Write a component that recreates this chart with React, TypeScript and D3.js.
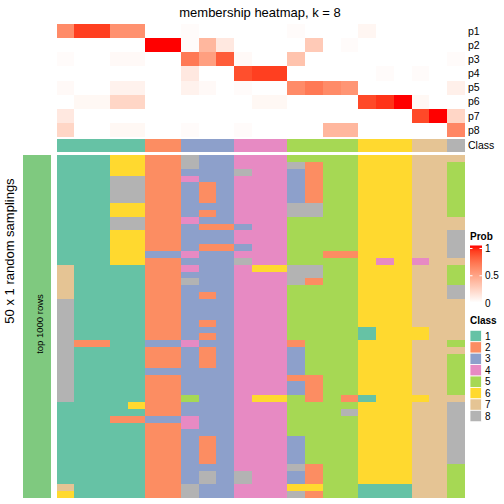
import React from "react";
import * as d3 from "d3";

const title = "membership heatmap, k = 8";
const probNames = ["p1", "p2", "p3", "p4", "p5", "p6", "p7", "p8"];
const classLabels = ["1", "2", "3", "4", "5", "6", "7", "8"];
const classColors = ["#66C2A5", "#FC8D62", "#8DA0CB", "#E78AC3", "#A6D854", "#FFD92F", "#E5C494", "#B3B3B3"];
const columnClass = "11111223334445555666778";

const p1 = [0.6, 0.9, 0.9, 0.57, 0.57, 0, 0, 0.02, 0, 0, 0, 0, 0, 0.02, 0, 0, 0, 0.05, 0, 0, 0, 0, 0];
const p2 = [0, 0, 0, 0, 0, 1, 1, 0.02, 0.38, 0.12, 0, 0, 0, 0, 0.28, 0, 0.02, 0, 0, 0, 0, 0, 0];
const p3 = [0.02, 0, 0, 0.03, 0.03, 0, 0, 0.68, 0.5, 0.8, 0.03, 0, 0, 0.32, 0, 0, 0, 0, 0, 0, 0, 0, 0.02];
const p4 = [0, 0, 0, 0, 0, 0, 0, 0.12, 0, 0, 0.85, 0.9, 0.9, 0, 0, 0, 0, 0, 0.02, 0, 0.02, 0, 0];
const p5 = [0.03, 0, 0, 0.07, 0.07, 0, 0, 0.07, 0.03, 0, 0.02, 0, 0, 0.6, 0.68, 0.6, 0.55, 0, 0, 0, 0, 0, 0.08];
const p6 = [0, 0.04, 0.04, 0.22, 0.22, 0, 0, 0, 0, 0, 0, 0.04, 0.04, 0, 0, 0, 0, 0.87, 0.93, 1, 0.04, 0, 0];
const p7 = [0.12, 0, 0, 0, 0, 0, 0, 0, 0, 0, 0, 0, 0, 0, 0, 0, 0, 0, 0, 0, 0.87, 1, 0.22];
const p8 = [0.22, 0, 0, 0.04, 0.04, 0, 0, 0.02, 0, 0, 0.02, 0, 0, 0, 0, 0.38, 0.38, 0, 0, 0, 0, 0, 0.62];
const probRows = [p1, p2, p3, p4, p5, p6, p7, p8];

// 50 random samplings x 23 samples, class labels
const samplings = [
  "11166228334445555666777",
  "11166228334448255666775",
  "11166223338443255666775",
  "11188224334443255666775",
  "11188223234443255666775",
  "11188223234443255666775",
  "11188223234443255666775",
  "11166223334448855666775",
  "11166223234448855666775",
  "11188224334445555666777",
  "11188223223445555666777",
  "11166223334445555666778",
  "11166223334445555666778",
  "11166223223445555666778",
  "11166334334445522666778",
  "11166223338445555646477",
  "71111224334668855666775",
  "71111223334448855666775",
  "71111228334448255666775",
  "71111223334445555666778",
  "71111223234445555666778",
  "81111223334445555666777",
  "81111223334445555666777",
  "81111223334445555666777",
  "81111223234445555666777",
  "81111223334445555166677",
  "81111223234445555166677",
  "82211334334442555666775",
  "81111223234443555666777",
  "81111223234443555666775",
  "81111223234443555666775",
  "81111333334443555666775",
  "81111223334442255666775",
  "81111223334443255666775",
  "81111223334443255666775",
  "81111225334665252166677",
  "11116223334445555666778",
  "11111223334445558666778",
  "11122334334445555666778",
  "11111224334445555666778",
  "11111223334445555666778",
  "11111223234443555666778",
  "11111223234443555666778",
  "11111223234443555666778",
  "11111223234443555666778",
  "11111223334448255666775",
  "11111223838443255666775",
  "11111223838443255666775",
  "71111228334446655111775",
  "61111228334448255111775",
];

const leftLabel = "50 x 1 random samplings";
const annoLabel = "top 1000 rows";

const FONT = "'Liberation Sans', Arial, Helvetica, sans-serif";

export default function App() {
  const nCol = columnClass.length;
  const x = d3.scaleBand<number>().domain(d3.range(nCol)).range([56.7, 465]).paddingInner(0);
  const yProb = d3.scaleBand<number>().domain(d3.range(8)).range([24, 137.1]);
  const yBody = d3.scaleBand<number>().domain(d3.range(samplings.length)).range([155, 498]);
  const classColor = d3.scaleOrdinal<string, string>().domain(classLabels).range(classColors);
  const probColor = (v: number) => d3.interpolateLab("white", "red")(v);
  const legendY = d3.scaleLinear().domain([0, 1]).range([303, 248.5]);
  const gradStops = d3.range(0, 1.0001, 0.1);

  return (
    <svg width={504} height={504} style={{ position: "absolute", left: 0, top: 0, background: "white" }} fontFamily={FONT}>
      <defs>
        <linearGradient id="probGrad" x1="0" y1="1" x2="0" y2="0">
          {gradStops.map((t) => (
            <stop key={t} offset={t} stopColor={probColor(t)} />
          ))}
        </linearGradient>
      </defs>
      <text x={260} y={17} fontSize={13} textAnchor="middle" fill="#000">{title}</text>

      {/* probability rows */}
      <g shapeRendering="crispEdges">
        {probRows.map((row, i) =>
          row.map((v, j) => (
            <rect key={`p${i}-${j}`} x={x(j)} y={yProb(i)} width={x.bandwidth() + 0.3} height={yProb.bandwidth() + 0.3} fill={probColor(v)} />
          ))
        )}
        {columnClass.split("").map((c, j) => (
          <rect key={`c${j}`} x={x(j)} y={138.5} width={x.bandwidth() + 0.3} height={13.9} fill={classColor(c)} />
        ))}
        {samplings.map((row, i) =>
          row.split("").map((c, j) => (
            <rect key={`s${i}-${j}`} x={x(j)} y={yBody(i)} width={x.bandwidth() + 0.3} height={yBody.bandwidth() + 0.3} fill={classColor(c)} />
          ))
        )}
        <rect x={22.7} y={155} width={28} height={343} fill="#7FC97F" />
      </g>

      {probNames.map((n, i) => (
        <text key={n} x={468} y={(yProb(i) as number) + yProb.bandwidth() / 2} dy="0.35em" fontSize={10.5}>{n}</text>
      ))}
      <text x={468} y={145.5} dy="0.35em" fontSize={10.5}>Class</text>

      <text transform={`translate(14,251) rotate(-90)`} textAnchor="middle" fontSize={13}>{leftLabel}</text>
      <text transform={`translate(42.5,324) rotate(-90)`} textAnchor="middle" fontSize={9.5}>{annoLabel}</text>

      {/* Prob legend */}
      <text x={470} y={240} fontSize={10} fontWeight="bold">Prob</text>
      <rect x={470} y={245.5} width={12} height={57} fill="url(#probGrad)" />
      {[0, 0.5, 1].map((t) => (
        <g key={t}>
          <line x1={470} x2={472.5} y1={legendY(t)} y2={legendY(t)} stroke="white" strokeWidth={1} />
          <line x1={479.5} x2={482} y1={legendY(t)} y2={legendY(t)} stroke="white" strokeWidth={1} />
          <text x={485} y={legendY(t)} dy="0.35em" fontSize={10}>{String(t)}</text>
        </g>
      ))}

      {/* Class legend */}
      <text x={470} y={323.5} fontSize={10} fontWeight="bold">Class</text>
      {classLabels.map((c, i) => (
        <g key={c}>
          <rect x={470} y={330.3 + i * 11.43} width={11.5} height={11.43} fill={classColor(c)} stroke="white" strokeWidth={0.8} />
          <text x={485} y={330.3 + i * 11.43 + 5.7} dy="0.35em" fontSize={10}>{c}</text>
        </g>
      ))}
    </svg>
  );
}
